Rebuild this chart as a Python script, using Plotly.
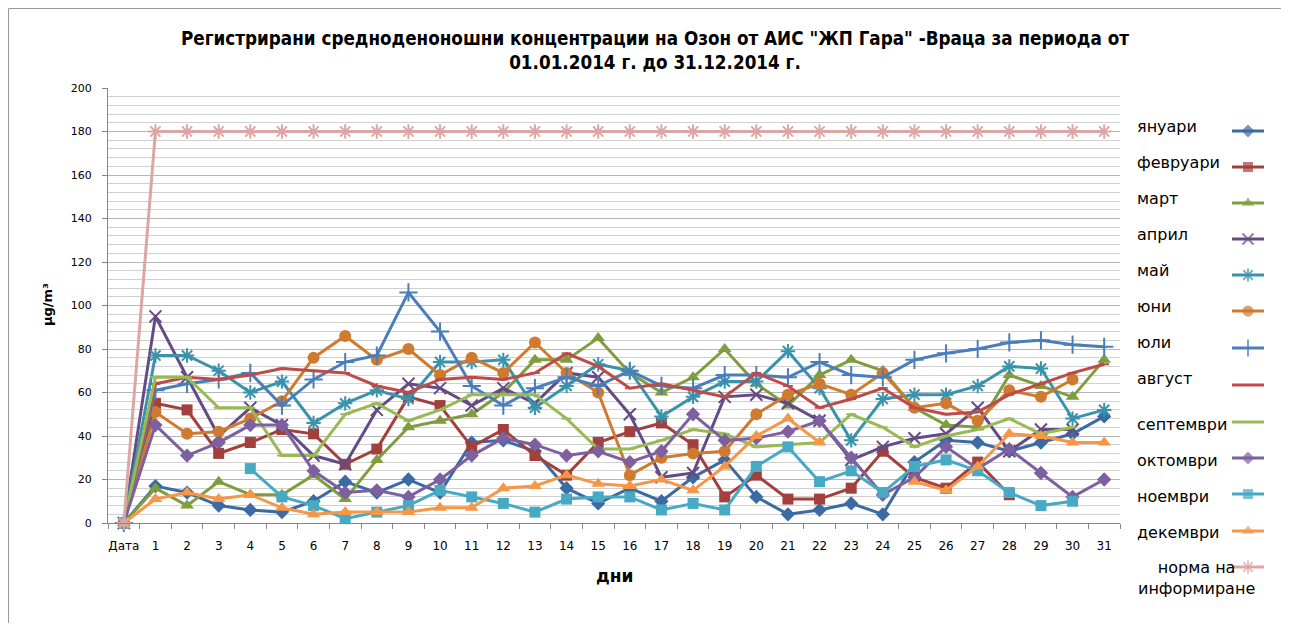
import plotly.graph_objects as go

# ---------------- data ----------------
categories = ["Дата", "1", "2", "3", "4", "5", "6", "7", "8", "9", "10", "11", "12", "13", "14", "15",
              "16", "17", "18", "19", "20", "21", "22", "23", "24", "25", "26", "27", "28", "29", "30", "31"]

january = [0, 17, 14, 8, 6, 5, 10, 19, 14, 20, 14, 37, 38, 33, 16, 9, 16, 10, 21, 29, 12, 4, 6, 9, 4, 28, 38, 37, 33, 37, 41, 49]
february = [0, 55, 52, 32, 37, 43, 41, 27, 34, 58, 54, 35, 43, 31, 22, 37, 42, 46, 36, 12, 22, 11, 11, 16, 33, 21, 16, 28, 13, None, None, None]
march = [0, 16, 8, 19, 13, 13, 22, 11, 29, 44, 47, 50, 60, 75, 75, 85, 69, 60, 67, 80, 64, 54, 68, 75, 70, 53, 45, 44, 68, 63, 58, 75]
april = [0, 95, 67, 40, 53, 45, 31, 27, 52, 64, 62, 54, 62, 55, 69, 67, 50, 21, 23, 58, 59, 55, 47, 29, 35, 39, 41, 53, 33, 43, 43, None]
may = [0, 77, 77, 70, 60, 65, 46, 55, 61, 57, 74, 74, 75, 53, 63, 73, 70, 49, 58, 65, 65, 79, 62, 38, 57, 59, 59, 63, 72, 71, 48, 52]
june = [0, 51, 41, 42, 48, 56, 76, 86, 75, 80, 68, 76, 69, 83, 69, 60, 22, 30, 32, 33, 50, 59, 64, 59, 69, 53, 55, 47, 61, 58, 66, None]
july = [0, 61, 64, 66, 69, 54, 66, 74, 77, 106, 88, 63, 54, 62, 67, 63, 70, 63, 62, 68, 68, 67, 74, 68, 67, 75, 78, 80, 83, 84, 82, 81]
august = [0, 64, 67, 66, 68, 71, 70, 69, 63, 60, 66, 67, 66, 69, 78, 72, 62, 64, 61, 58, 69, 63, 53, 57, 62, 53, 50, 51, 59, 64, 69, 73]
september = [0, 67, 67, 53, 53, 31, 31, 50, 55, 47, 52, 59, 59, 59, 48, 34, 34, 38, 43, 41, 35, 36, 37, 50, 44, 35, 40, 43, 48, 41, 44, None]
october = [0, 45, 31, 37, 45, 45, 24, 14, 15, 12, 20, 31, 39, 36, 31, 33, 28, 33, 50, 38, 39, 42, 47, 30, 13, 21, 35, 25, 34, 23, 12, 20]
november = [0, None, None, None, 25, 12, 8, 2, 5, 8, 15, 12, 9, 5, 11, 12, 12, 6, 9, 6, 26, 35, 19, 24, 14, 26, 29, 24, 14, 8, 10, None]
december = [0, 11, 14, 11, 13, 7, 4, 5, 5, 5, 7, 7, 16, 17, 22, 18, 17, 20, 15, 26, 40, 48, 37, None, None, 19, 15, 26, 41, 40, 37, 37]
norm = [0, 180, 180, 180, 180, 180, 180, 180, 180, 180, 180, 180, 180, 180, 180, 180,
        180, 180, 180, 180, 180, 180, 180, 180, 180, 180, 180, 180, 180, 180, 180, 180]

series_names = ["януари", "февруари", "март", "април", "май", "юни", "юли", "август",
                "септември", "октомври", "ноември", "декември", "норма на информиране"]
series_values = [january, february, march, april, may, june, july, august,
                 september, october, november, december, norm]

title_text = ("Регистрирани средноденоношни концентрации на Озон от АИС \"ЖП Гара\" -Враца за периода от"
              "<br>01.01.2014 г. до 31.12.2014 г.")

# ---------------- styles ----------------
styles = [
    dict(color="#3C6AA2", symbol="diamond", size=11),
    dict(color="#A33F3C", symbol="square", size=11),
    dict(color="#7F9C3E", symbol="triangle-up", size=12),
    dict(color="#654B86", symbol="x-thin-open", size=12),
    dict(color="#3993AC", symbol="asterisk-open", size=12),
    dict(color="#D07A30", symbol="circle", size=12),
    dict(color="#4A7EBB", symbol="cross-thin-open", size=13),
    dict(color="#BE4B48", symbol="line-ew-open", size=7),
    dict(color="#98B954", symbol="line-ew-open", size=7),
    dict(color="#7D60A0", symbol="diamond", size=11),
    dict(color="#46AAC5", symbol="square", size=11),
    dict(color="#F79646", symbol="triangle-up", size=12),
    dict(color="#DCA6A5", symbol="asterisk-open", size=12),
]

FONT = "DejaVu Sans, Liberation Sans, Arial, sans-serif"
TITLE_FONT = "DejaVu Sans Condensed, Liberation Sans Narrow, DejaVu Sans, sans-serif"

# page offset of the plot div (browser body margin)
OFF = 8
W_FIG, H_FIG = 1281, 616
ML, MR, MT, MB = 100, 5, 5, 5
PW, PH = W_FIG - ML - MR, H_FIG - MT - MB


def pxx(px):
    """page x pixel -> paper x"""
    return (px - OFF - ML) / PW


def pyy(py):
    """page y pixel -> paper y"""
    return (OFF + H_FIG - MB - py) / PH


fig = go.Figure()

for name, vals, st in zip(series_names, series_values, styles):
    open_sym = st["symbol"].endswith("open")
    fig.add_trace(go.Scatter(
        x=categories, y=vals, name=name, mode="lines+markers",
        line=dict(color=st["color"], width=3),
        marker=dict(symbol=st["symbol"], size=st["size"], color=st["color"],
                    line=dict(color=st["color"], width=2 if open_sym else 0)),
        connectgaps=False, showlegend=False, cliponaxis=False,
        xaxis="x", yaxis="y",
    ))

# ---------------- custom legend (text left, key right as in the original) ----------------
leg_key_y = [131, 167, 203, 239, 275, 311, 348, 385, 422, 458, 494, 531, 567]
leg_text_y = [126, 162, 198, 234, 270, 306, 342, 378, 424, 460, 496, 532]
annotations = []
for i, (name, st) in enumerate(zip(series_names, styles)):
    open_sym = st["symbol"].endswith("open")
    fig.add_trace(go.Scatter(
        x=[1232, 1248, 1264], y=[leg_key_y[i]] * 3, mode="lines+markers",
        line=dict(color=st["color"], width=3),
        marker=dict(symbol=st["symbol"], size=[0, st["size"] - 1, 0], color=st["color"],
                    line=dict(color=st["color"], width=2 if open_sym else 0)),
        showlegend=False, hoverinfo="skip", xaxis="x2", yaxis="y2",
    ))
    if i < 12:
        annotations.append(dict(text=name, x=1135, y=leg_text_y[i], xref="x2", yref="y2",
                                xanchor="left", yanchor="middle", showarrow=False,
                                font=dict(family=FONT, size=16, color="#000000")))
annotations.append(dict(text="норма на<br>информиране", x=1196, y=578, xref="x2", yref="y2",
                        xanchor="center", yanchor="middle", showarrow=False, align="center",
                        font=dict(family=FONT, size=16, color="#000000")))

# titles
annotations.append(dict(text="<b>" + title_text + "</b>", x=pxx(655), y=pyy(50), xref="paper", yref="paper",
                        xanchor="center", yanchor="middle", showarrow=False, align="center",
                        font=dict(family=TITLE_FONT, size=18.7, color="#000000")))
annotations.append(dict(text="<b>дни</b>", x=pxx(614), y=pyy(576), xref="paper", yref="paper",
                        xanchor="center", yanchor="middle", showarrow=False,
                        font=dict(family=FONT, size=17, color="#000000")))
annotations.append(dict(text="<b>µg/m³</b>", x=pxx(48), y=pyy(305), xref="paper", yref="paper",
                        xanchor="center", yanchor="middle", showarrow=False, textangle=-90,
                        font=dict(family=FONT, size=13, color="#000000")))

fig.update_layout(
    width=W_FIG, height=H_FIG,
    margin=dict(l=ML, r=MR, t=MT, b=MB, autoexpand=False),
    paper_bgcolor="white", plot_bgcolor="white",
    showlegend=False,
    annotations=annotations,
    xaxis=dict(
        domain=[0, pxx(1120)], anchor="y", type="category",
        categoryorder="array", categoryarray=categories,
        range=[-0.5, len(categories) - 0.5],
        tickson="boundaries", ticks="outside", ticklen=5, tickcolor="#868686",
        tickangle=0, ticklabelstandoff=12,
        showline=True, linecolor="#868686", linewidth=1,
        showgrid=False, zeroline=False,
        tickfont=dict(family=FONT, size=12, color="#000000"),
    ),
    yaxis=dict(
        domain=[pyy(523), pyy(88)], anchor="x",
        range=[0, 200], dtick=20, tick0=0,
        ticks="outside", ticklen=5, tickcolor="#868686", ticklabelstandoff=8,
        showline=True, linecolor="#868686", linewidth=1,
        showgrid=True, gridcolor="#b5b5b5", gridwidth=1,
        zeroline=False,
        minor=dict(dtick=4, showgrid=True, gridcolor="#d0d0d0", gridwidth=1, ticks=""),
        tickfont=dict(family=FONT, size=11, color="#000000"),
    ),
    xaxis2=dict(domain=[pxx(1125), 1.0], range=[1125, OFF + W_FIG - MR], anchor="y2",
                visible=False, fixedrange=True),
    yaxis2=dict(domain=[0, 1], range=[OFF + H_FIG - MB, OFF + MT], anchor="x2",
                visible=False, fixedrange=True),
    shapes=[
        dict(type="line", xref="paper", yref="paper", x0=pxx(8.5), x1=pxx(8.5), y0=pyy(623), y1=pyy(8.5),
             line=dict(color="#9a9a9a", width=1), layer="below"),
        dict(type="line", xref="paper", yref="paper", x0=pxx(8.5), x1=pxx(1289), y0=pyy(8.5), y1=pyy(8.5),
             line=dict(color="#9a9a9a", width=1), layer="below"),
    ],
)

fig.write_html("out.html")
